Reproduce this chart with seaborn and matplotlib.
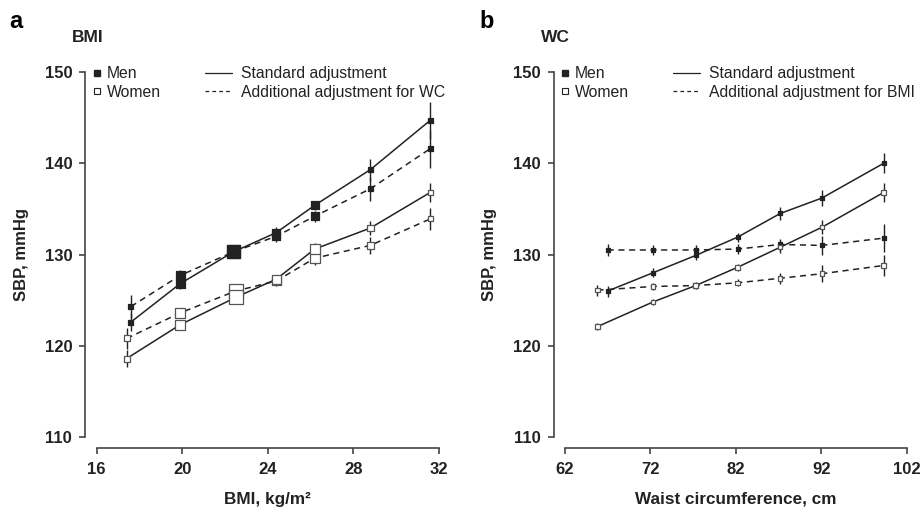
import numpy as np
import pandas as pd
import seaborn as sns
import matplotlib.pyplot as plt
from matplotlib.lines import Line2D

# -----------------------------------------------
# DATA
# -----------------------------------------------

# panel a: BMI
bmi_men = [17.6, 19.9, 22.4, 24.4, 26.2, 28.8, 31.6]
bmi_women = [17.4, 19.9, 22.5, 24.4, 26.2, 28.8, 31.6]
sbp_men_std = [122.6, 126.8, 130.3, 132.4, 135.4, 139.3, 144.7]
sbp_men_adj = [124.3, 127.7, 130.3, 132.0, 134.2, 137.2, 141.6]
sbp_women_std = [118.6, 122.3, 125.3, 127.3, 130.6, 132.9, 136.8]
sbp_women_adj = [120.8, 123.6, 126.0, 127.1, 129.6, 131.0, 133.9]
err_men_std = [1.0, 0.6, 0.4, 0.6, 0.5, 1.2, 2.0]
err_men_adj = [1.3, 0.6, 0.4, 0.6, 0.6, 1.3, 2.1]
err_women_std = [0.9, 0.5, 0.7, 0.5, 0.7, 0.8, 1.0]
err_women_adj = [1.2, 0.5, 0.4, 0.5, 0.7, 0.9, 1.2]
# marker side (px), proportional to group size
size_men_a = [5, 9, 13, 8, 8, 5, 5]
size_women_a = [6, 10, 14, 9, 10, 6.5, 5]

# panel b: WC
wc_men = [67.0, 72.3, 77.3, 82.2, 87.2, 92.1, 99.3]
wc_women = [65.8, 72.3, 77.3, 82.2, 87.2, 92.1, 99.3]
sbp_men_std_b = [126.0, 128.0, 129.9, 131.9, 134.5, 136.2, 140.0]
sbp_men_adj_b = [130.5, 130.5, 130.5, 130.6, 131.1, 131.0, 131.8]
sbp_women_std_b = [122.1, 124.8, 126.6, 128.6, 130.8, 133.0, 136.8]
sbp_women_adj_b = [126.1, 126.5, 126.6, 126.9, 127.4, 127.9, 128.8]
err_men_std_b = [0.6, 0.5, 0.5, 0.5, 0.7, 0.9, 1.1]
err_men_adj_b = [0.7, 0.5, 0.5, 0.5, 0.6, 1.0, 1.5]
err_women_std_b = [0.4, 0.3, 0.3, 0.4, 0.6, 0.8, 1.0]
err_women_adj_b = [0.6, 0.4, 0.4, 0.4, 0.6, 0.9, 1.2]
size_men_b = [4, 4, 4, 4, 4, 4, 4]
size_women_b = [4.5, 4.5, 4.5, 4.5, 4.5, 4.5, 4.5]

# -----------------------------------------------
# STYLE
# -----------------------------------------------

sns.set_theme(style="ticks")
plt.rcParams["font.family"] = ["Liberation Sans", "DejaVu Sans"]
DARK = "#222222"
SPINE = "#444444"

fig = plt.figure(figsize=(9.23, 5.14), dpi=100)
ax_a = fig.add_axes([0.1048, 0.1498, 0.3705, 0.710])
ax_b = fig.add_axes([0.6121, 0.1498, 0.3702, 0.710])


def px2pt(px):
    return px * 72 / 100


def draw_series(ax, x, y, err, sizes, filled, dashed):
    df = pd.DataFrame({"x": x, "y": y})
    sns.lineplot(data=df, x="x", y="y", ax=ax, color=DARK, lw=1.1,
                 linestyle=(0, (4, 3)) if dashed else "-", zorder=2)
    ax.errorbar(x, y, yerr=err, fmt="none", ecolor=DARK, elinewidth=1.0,
                capsize=0, zorder=3)
    ax.scatter(x, y, s=[px2pt(s) ** 2 for s in sizes], marker="s",
               facecolor=DARK if filled else "white",
               edgecolor=DARK if filled else "#555555",
               linewidths=0.9, zorder=4)


def style_axes(ax, xlim, xticks, xlabel, adj_label):
    ax.set_xlim(*xlim)
    ax.set_ylim(110, 150)
    ax.set_xticks(xticks)
    ax.set_yticks([110, 120, 130, 140, 150])
    sns.despine(ax=ax)
    for side in ["left", "bottom"]:
        ax.spines[side].set_position(("outward", 8.2))
        ax.spines[side].set_color(SPINE)
        ax.spines[side].set_linewidth(1.2)
    ax.tick_params(axis="both", length=4.5, width=1.2, color=SPINE,
                   labelsize=12, pad=5)
    for lab in ax.get_xticklabels() + ax.get_yticklabels():
        lab.set_fontweight("bold")
        lab.set_color(DARK)
    ax.set_xlabel(xlabel, fontsize=12.3, fontweight="bold", color=DARK, labelpad=11)
    ax.set_ylabel("SBP, mmHg", fontsize=12, fontweight="bold", color=DARK, labelpad=11)

    fs = 11.3
    sex_handles = [
        Line2D([], [], ls="none", marker="s", ms=px2pt(6), mfc=DARK, mec=DARK),
        Line2D([], [], ls="none", marker="s", ms=px2pt(6), mfc="white", mec=DARK, mew=0.8),
    ]
    leg1 = ax.legend(sex_handles, ["Men", "Women"], loc="upper left",
                     bbox_to_anchor=(-0.0137, 1.016), frameon=False, fontsize=fs,
                     handlelength=0.6, handletextpad=0.34, labelspacing=0.21,
                     borderpad=0, borderaxespad=0)
    ax.add_artist(leg1)
    adj_handles = [
        Line2D([], [], color=DARK, lw=0.9),
        Line2D([], [], color=DARK, lw=0.9, linestyle=(0, (3, 2.5))),
    ]
    ax.legend(adj_handles, ["Standard adjustment", adj_label], loc="upper left",
              bbox_to_anchor=(0.3167, 1.016), frameon=False, fontsize=fs,
              handlelength=1.7, handletextpad=0.57, labelspacing=0.21,
              borderpad=0, borderaxespad=0)
    for leg in [leg1, ax.get_legend()]:
        for t in leg.get_texts():
            t.set_color(DARK)


# panel a
draw_series(ax_a, bmi_men, sbp_men_adj, err_men_adj, size_men_a, True, True)
draw_series(ax_a, bmi_men, sbp_men_std, err_men_std, size_men_a, True, False)
draw_series(ax_a, bmi_women, sbp_women_adj, err_women_adj, size_women_a, False, True)
draw_series(ax_a, bmi_women, sbp_women_std, err_women_std, size_women_a, False, False)
style_axes(ax_a, (16, 32), [16, 20, 24, 28, 32], "BMI, kg/m²",
           "Additional adjustment for WC")

# panel b
draw_series(ax_b, wc_men, sbp_men_adj_b, err_men_adj_b, size_men_b, True, True)
draw_series(ax_b, wc_men, sbp_men_std_b, err_men_std_b, size_men_b, True, False)
draw_series(ax_b, wc_women, sbp_women_adj_b, err_women_adj_b, size_women_b, False, True)
draw_series(ax_b, wc_women, sbp_women_std_b, err_women_std_b, size_women_b, False, False)
style_axes(ax_b, (62, 102), [62, 72, 82, 92, 102], "Waist circumference, cm",
           "Additional adjustment for BMI")

# panel letters and titles
fig.text(9 / 923, 1 - 22 / 514, "a", fontsize=17, fontweight="bold", va="center", color="black")
fig.text(72 / 923, 1 - 37 / 514, "BMI", fontsize=12.5, fontweight="bold", va="center", color=DARK)
fig.text(479 / 923, 1 - 22 / 514, "b", fontsize=17, fontweight="bold", va="center", color="black")
fig.text(541 / 923, 1 - 37 / 514, "WC", fontsize=12.5, fontweight="bold", va="center", color=DARK)

fig.savefig("out.png", dpi=100)
